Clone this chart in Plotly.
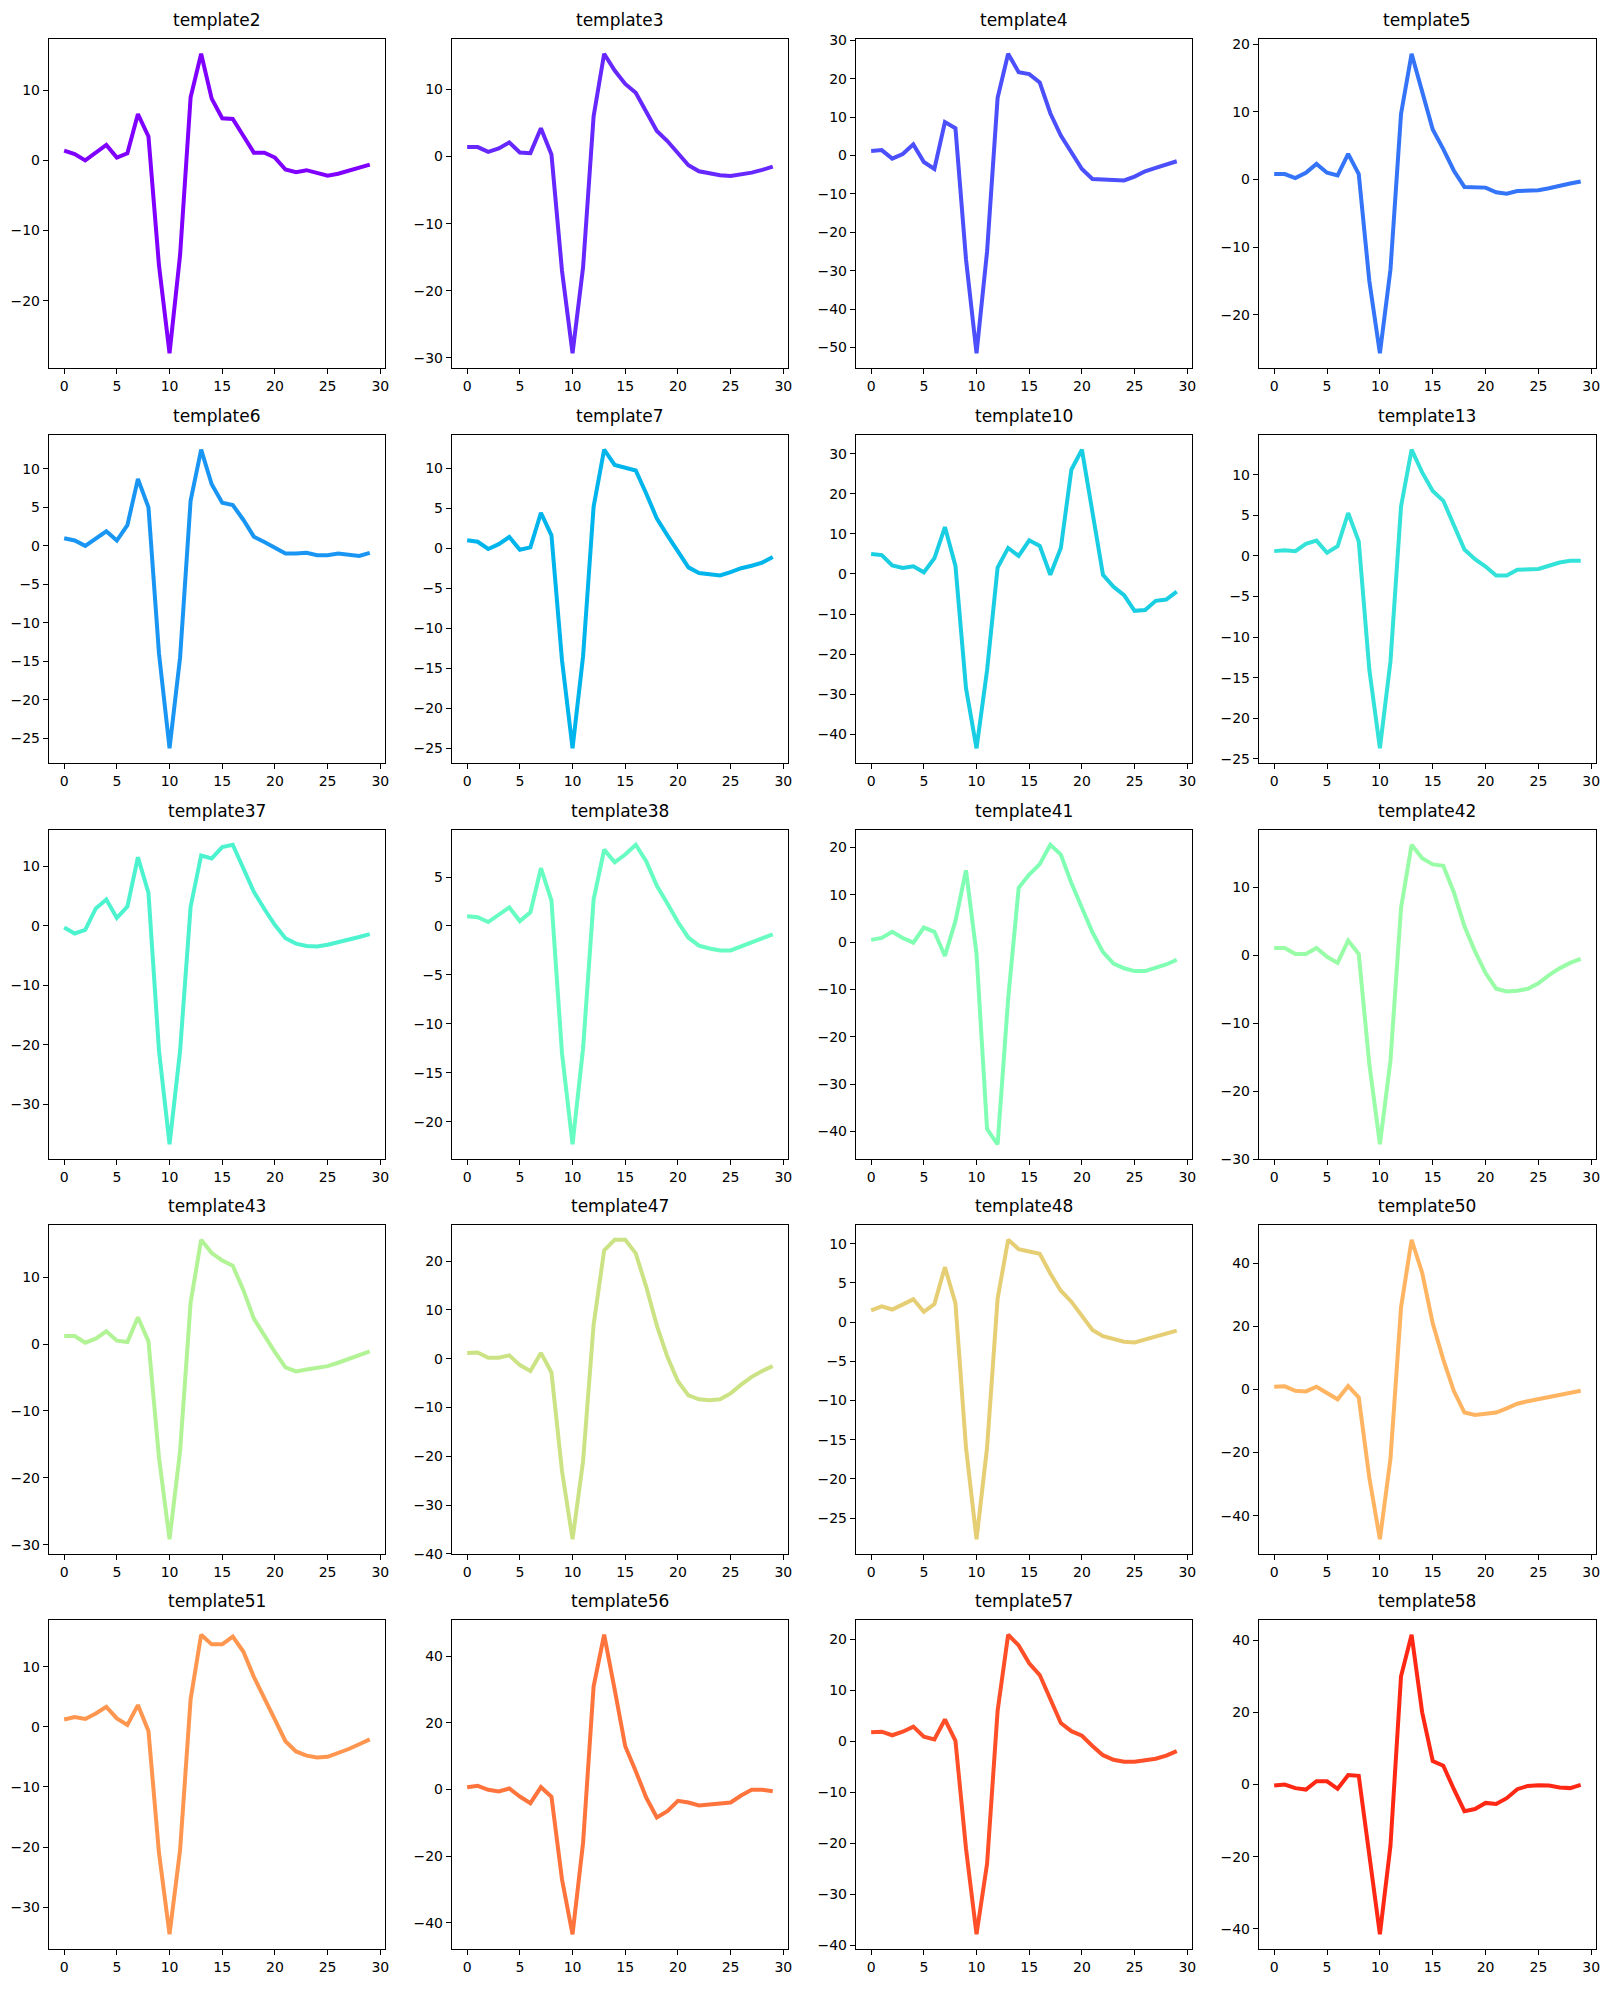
import math
import plotly.graph_objects as go

names = ["template2", "template3", "template4", "template5",
         "template6", "template7", "template10", "template13",
         "template37", "template38", "template41", "template42",
         "template43", "template47", "template48", "template50",
         "template51", "template56", "template57", "template58"]

x_vals = list(range(30))

t2 = [1.4, 0.9, 0.0, 1.1, 2.2, 0.4, 1.0, 6.6, 3.4, -15, -27.5, -13.5, 9, 15.2, 8.8, 6.0, 5.9, 3.5, 1.1, 1.1, 0.4, -1.3, -1.7, -1.4, -1.8, -2.2, -1.9, -1.5, -1.1, -0.6]
t3 = [1.4, 1.4, 0.7, 1.2, 2.1, 0.6, 0.5, 4.2, 0.3, -17, -29.3, -16.5, 6, 15.3, 12.8, 10.8, 9.5, 6.7, 3.8, 2.3, 0.6, -1.3, -2.2, -2.5, -2.8, -2.9, -2.7, -2.4, -2.0, -1.5]
t4 = [1.2, 1.4, -0.8, 0.4, 2.9, -1.7, -3.5, 8.7, 7.1, -27, -51.5, -25, 15, 26.5, 21.7, 21.2, 19, 11, 5.2, 1.0, -3.5, -6.1, -6.2, -6.3, -6.5, -5.5, -4.1, -3.2, -2.3, -1.5]
t5 = [0.8, 0.8, 0.2, 1.0, 2.3, 1.0, 0.6, 3.8, 0.8, -15, -25.7, -13.3, 9.7, 18.6, 13, 7.4, 4.5, 1.3, -1.1, -1.2, -1.2, -1.9, -2.1, -1.7, -1.6, -1.6, -1.3, -0.9, -0.6, -0.3]
t6 = [1.0, 0.7, 0.0, 1.0, 1.9, 0.7, 2.7, 8.7, 5.0, -14, -26.3, -14.5, 5.9, 12.5, 8.0, 5.6, 5.3, 3.4, 1.2, 0.5, -0.2, -1.0, -1.0, -0.9, -1.2, -1.2, -1.0, -1.1, -1.3, -0.9]
t7 = [1.0, 0.8, -0.1, 0.5, 1.4, -0.2, 0.1, 4.4, 1.6, -14, -25, -13.5, 5.2, 12.3, 10.4, 10.0, 9.7, 6.8, 3.7, 1.6, -0.5, -2.4, -3.1, -3.3, -3.4, -3.0, -2.5, -2.2, -1.8, -1.1]
t10 = [5.0, 4.7, 2.1, 1.5, 1.9, 0.4, 3.9, 11.7, 2.0, -28.5, -43.5, -24, 1.6, 6.5, 4.5, 8.4, 7.0, -0.2, 6.5, 26, 31, 15, -0.2, -3.2, -5.3, -9.2, -9.0, -6.7, -6.4, -4.4]
t13 = [0.6, 0.7, 0.6, 1.5, 1.9, 0.4, 1.2, 5.3, 1.8, -14, -23.7, -13, 6.1, 13.1, 10.3, 8.0, 6.8, 3.8, 0.8, -0.4, -1.3, -2.4, -2.4, -1.7, -1.6, -1.6, -1.2, -0.8, -0.6, -0.6]
t37 = [-0.3, -1.3, -0.7, 2.9, 4.4, 1.3, 3.2, 11.5, 5.5, -21, -36.7, -21, 3.2, 11.8, 11.3, 13.2, 13.6, 9.8, 5.7, 2.8, 0.1, -2.1, -3.0, -3.4, -3.5, -3.2, -2.8, -2.4, -1.9, -1.4]
t38 = [1.0, 0.9, 0.4, 1.2, 1.9, 0.5, 1.4, 5.9, 2.6, -13, -22.3, -12.5, 2.7, 7.8, 6.5, 7.3, 8.3, 6.6, 4.1, 2.3, 0.4, -1.2, -2.0, -2.3, -2.5, -2.5, -2.1, -1.7, -1.3, -0.85]
t41 = [0.5, 0.9, 2.2, 0.9, -0.1, 3.1, 2.2, -2.9, 4.5, 15.2, -2.5, -39.5, -42.7, -12, 11.5, 14.3, 16.5, 20.6, 18.5, 12.5, 7.3, 2.1, -2.1, -4.5, -5.5, -6.1, -6.1, -5.5, -4.7, -3.7]
t42 = [1.1, 1.1, 0.2, 0.2, 1.1, -0.2, -1.1, 2.2, 0.2, -16, -27.8, -15.5, 7, 16.3, 14.3, 13.4, 13.2, 9.3, 4.3, 0.6, -2.6, -4.9, -5.3, -5.2, -4.9, -4.1, -2.9, -1.9, -1.1, -0.5]
t43 = [1.2, 1.2, 0.2, 0.8, 1.9, 0.5, 0.3, 4.0, 0.4, -17, -29.2, -16, 6.2, 15.6, 13.6, 12.5, 11.7, 8.1, 3.8, 1.2, -1.2, -3.5, -4.1, -3.8, -3.5, -3.3, -2.8, -2.2, -1.6, -1.1]
t47 = [1.2, 1.3, 0.2, 0.2, 0.7, -1.3, -2.5, 1.2, -2.8, -23, -37, -21, 7, 22.2, 24.4, 24.4, 21.6, 14.7, 6.8, 0.4, -4.6, -7.5, -8.3, -8.5, -8.3, -7.1, -5.3, -3.7, -2.5, -1.5]
t48 = [1.5, 2.0, 1.6, 2.3, 2.9, 1.3, 2.3, 7.0, 2.4, -16, -27.7, -16, 3.0, 10.5, 9.3, 9.0, 8.7, 6.2, 4.0, 2.6, 0.8, -1.0, -1.8, -2.1, -2.5, -2.6, -2.2, -1.8, -1.5, -1.1]
t50 = [0.9, 1.0, -0.4, -0.6, 0.9, -1.2, -3.1, 1.1, -2.5, -28, -47.5, -22, 26, 47.5, 37, 21, 9.5, -0.5, -7.3, -8.1, -7.8, -7.3, -6.0, -4.5, -3.7, -3.0, -2.2, -1.5, -0.9, -0.4]
t51 = [1.2, 1.6, 1.3, 2.2, 3.3, 1.4, 0.3, 3.6, -0.7, -21, -34.5, -20.5, 4.6, 15.3, 13.7, 13.7, 15.0, 12.5, 8.3, 4.9, 1.2, -2.4, -4.1, -4.8, -5.1, -5.0, -4.4, -3.7, -2.9, -2.1]
t56 = [0.7, 1.1, -0.1, -0.6, 0.3, -2.1, -4.1, 0.7, -2.2, -27, -43.5, -16, 31, 46.5, 30, 13, 5.5, -2.5, -8.4, -6.5, -3.4, -3.9, -4.8, -4.5, -4.4, -3.9, -1.8, -0.1, -0.1, -0.5]
t57 = [1.8, 1.9, 1.2, 1.9, 2.9, 0.9, 0.4, 4.3, 0.1, -21, -37.8, -24, 6, 20.9, 18.8, 15.3, 13, 8.3, 3.6, 2.0, 1.1, -0.9, -2.7, -3.6, -4.0, -4.0, -3.7, -3.4, -2.8, -1.9]
t58 = [-0.3, 0.0, -1.0, -1.4, 0.9, 0.9, -1.2, 2.6, 2.4, -20, -41.5, -17, 30, 41.5, 20, 6.5, 5.2, -1.3, -7.4, -6.8, -5.1, -5.4, -3.8, -1.3, -0.4, -0.2, -0.3, -0.8, -1.0, -0.1]

series = [t2, t3, t4, t5, t6, t7, t10, t13, t37, t38,
          t41, t42, t43, t47, t48, t50, t51, t56, t57, t58]

y_dticks = [10, 10, 10, 10, 5, 5, 10, 5, 10, 5,
            10, 10, 10, 10, 5, 20, 10, 20, 10, 20]

x_ticks = [0, 5, 10, 15, 20, 25, 30]

W, H = 1612, 1991
col_left = [49, 453, 858, 1262]
col_right = [386, 790, 1195, 1600]
row_top = [32, 431, 829, 1227, 1625]
row_bot = [364, 762, 1161, 1559, 1957]


def rainbow(t):
    r = min(1.0, abs(2 * t - 0.5))
    g = abs(math.sin(math.pi * t))
    b = abs(math.cos(math.pi * t / 2))
    return "rgb(%d,%d,%d)" % (round(r * 255), round(g * 255), round(b * 255))


fig = go.Figure()
annotations = []
n = len(series)
for i, (name, ys, dt) in enumerate(zip(names, series, y_dticks)):
    r, c = divmod(i, 4)
    k = i + 1
    xa = "x" if k == 1 else "x%d" % k
    ya = "y" if k == 1 else "y%d" % k
    fig.add_trace(go.Scatter(x=x_vals, y=ys, mode="lines",
                             line=dict(color=rainbow(i / n), width=4),
                             xaxis=xa, yaxis=ya, showlegend=False))
    lo, hi = min(ys), max(ys)
    pad = 0.05 * (hi - lo)
    xd = [col_left[c] / W, col_right[c] / W]
    yd = [1 - row_bot[r] / H, 1 - row_top[r] / H]
    axis_common = dict(showline=True, mirror=True, linecolor="black", linewidth=1.1,
                       ticks="outside", ticklen=5, tickwidth=1.1, tickcolor="black",
                       showgrid=False, zeroline=False,
                       tickfont=dict(family="DejaVu Sans", size=14, color="black"))
    fig.layout["xaxis" if k == 1 else "xaxis%d" % k] = dict(
        domain=xd, anchor=ya, range=[-1.45, 30.45],
        tickmode="array", tickvals=x_ticks, **axis_common)
    fig.layout["yaxis" if k == 1 else "yaxis%d" % k] = dict(
        domain=yd, anchor=xa, range=[lo - pad, hi + pad],
        tickmode="linear", tick0=0, dtick=dt, **axis_common)
    annotations.append(dict(text=name, xref="paper", yref="paper",
                            x=(col_left[c] + col_right[c]) / 2 / W,
                            y=1 - (row_top[r] - 7) / H,
                            xanchor="center", yanchor="bottom", showarrow=False,
                            font=dict(family="DejaVu Sans", size=17, color="black")))

fig.update_layout(width=W, height=H, margin=dict(l=0, r=0, t=0, b=0),
                  paper_bgcolor="white", plot_bgcolor="white",
                  annotations=annotations)
fig.write_html("out.html")
